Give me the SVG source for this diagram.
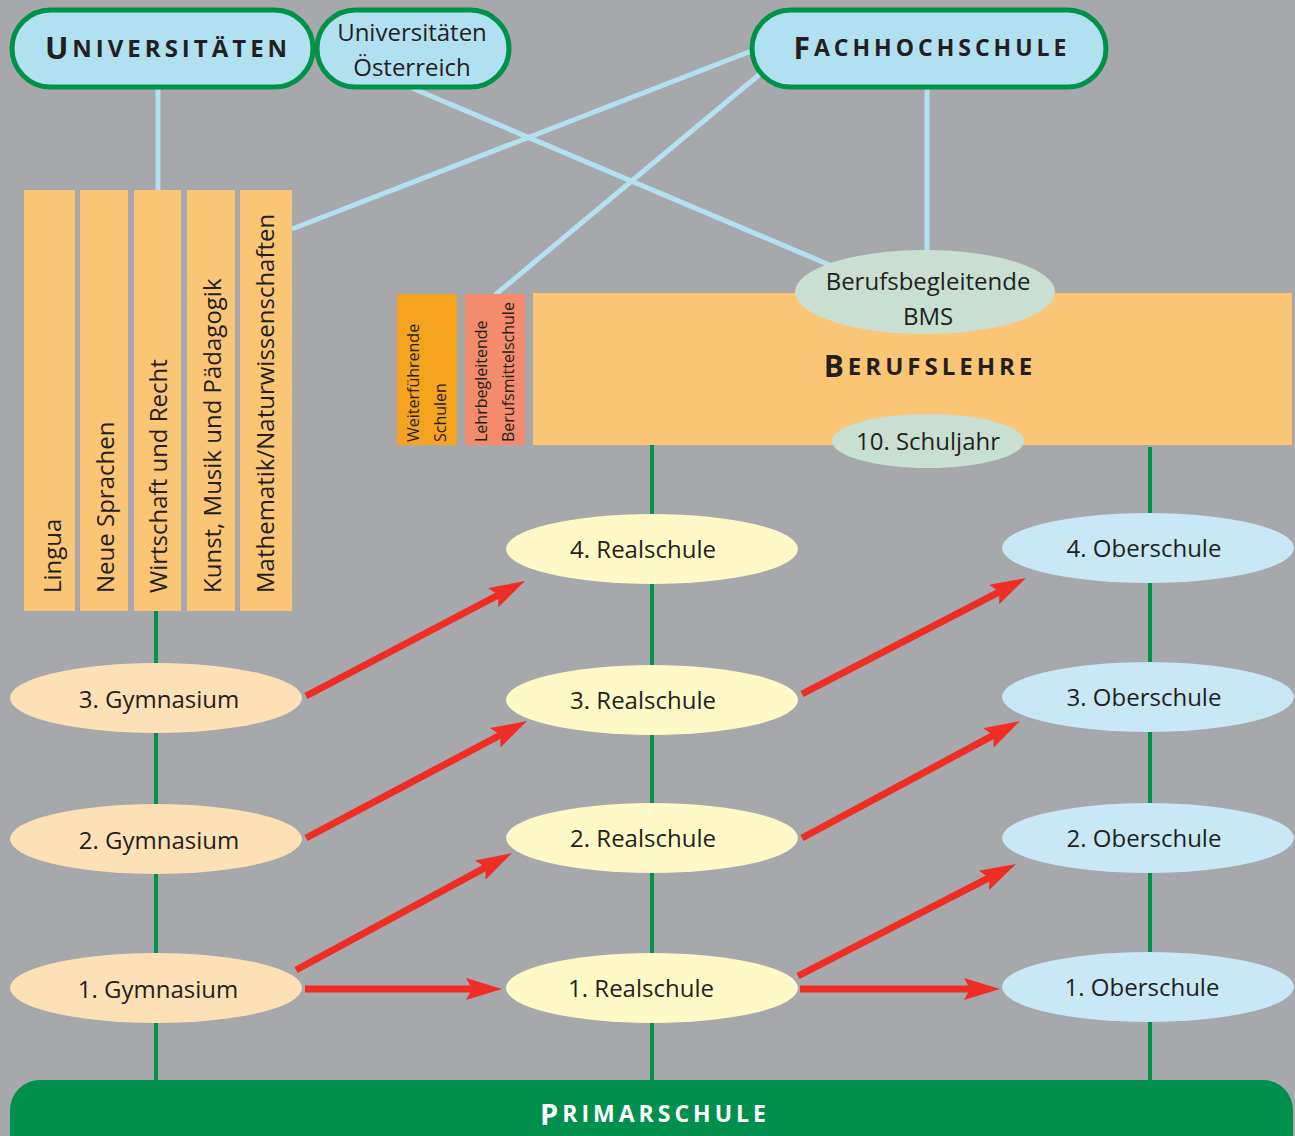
<svg xmlns="http://www.w3.org/2000/svg" width="1295" height="1136" viewBox="0 0 1295 1136">
<style>
.pill{fill:#b1e0f0;stroke:#009249;stroke-width:5}
.t{font-family:"Open Sans","Noto Sans","Liberation Sans",sans-serif;fill:#231f20}
.lbl{font-size:24px;text-anchor:middle;dominant-baseline:central}
.cap{font-weight:bold;letter-spacing:4px;text-anchor:middle;dominant-baseline:central}
.col{fill:#fbc576}
.blue{stroke:#b3e1f1;stroke-width:5;fill:none}
.grn{stroke:#009249;stroke-width:4;fill:none}
.red{stroke:#ee2e24;stroke-width:7;fill:none;marker-end:url(#ah)}
.gym{fill:#fde0b5}
.real{fill:#fef9c6}
.ober{fill:#c7e8f4}
.mint{fill:#c9dfd2}
.vt{font-size:24px}
.sm{font-size:16px}
.wht{fill:#ffffff}
</style>
<defs>
<marker id="ah" markerUnits="userSpaceOnUse" viewBox="0 0 36 22" markerWidth="36" markerHeight="22" refX="6" refY="11" orient="auto">
<path d="M0,0 L36,11 L0,22 L6,11 z" fill="#ee2e24"/>
</marker>
</defs>
<rect width="1295" height="1136" fill="#a7a8ac"/>
<g id="connectors">
<line class="blue" x1="158" y1="87" x2="158" y2="192"/>
<line class="blue" x1="927" y1="87" x2="927" y2="252"/>
<line class="blue" x1="754" y1="50" x2="292" y2="229"/>
<line class="blue" x1="760" y1="74" x2="495" y2="295"/>
<line class="blue" x1="412" y1="88" x2="832" y2="266"/>
<line class="grn" x1="156" y1="611" x2="156" y2="1082"/>
<line class="grn" x1="652" y1="444" x2="652" y2="1082"/>
<line class="grn" x1="1150" y1="447" x2="1150" y2="1082"/>
<line class="red" x1="306" y1="696" x2="498.4" y2="595"/>
<line class="red" x1="306" y1="838" x2="500.5" y2="735"/>
<line class="red" x1="296" y1="970" x2="485.6" y2="867.3"/>
<line class="red" x1="305" y1="989" x2="472" y2="989"/>
<line class="red" x1="802" y1="694" x2="999.4" y2="591.8"/>
<line class="red" x1="802" y1="838" x2="993.6" y2="735.2"/>
<line class="red" x1="798" y1="976" x2="989.3" y2="877.7"/>
<line class="red" x1="800" y1="989" x2="970" y2="989"/>
</g>
<g id="universitaeten">
<rect class="pill" x="12" y="10" width="301" height="77" rx="38.5"/>
<text class="t cap" x="168" y="47" font-size="24"><tspan font-size="31">U</tspan>NIVERSITÄTEN</text>
</g>
<g id="uni-oesterreich">
<rect class="pill" x="317" y="10" width="192" height="77" rx="38.5"/>
<text class="t lbl" x="412" y="31">Universitäten</text>
<text class="t lbl" x="412" y="66">Österreich</text>
</g>
<g id="fachhochschule">
<rect class="pill" x="752" y="10" width="354" height="77" rx="38.5"/>
<text class="t cap" x="932" y="47" font-size="23"><tspan font-size="30">F</tspan>ACHHOCHSCHULE</text>
</g>
<g id="lingua"><rect class="col" x="24" y="190" width="51" height="421"/><text class="t vt" transform="translate(61,593) rotate(-90)">Lingua</text></g>
<g id="neue-sprachen"><rect class="col" x="80" y="190" width="48" height="421"/><text class="t vt" transform="translate(114,593) rotate(-90)">Neue Sprachen</text></g>
<g id="wirtschaft"><rect class="col" x="134" y="190" width="47" height="421"/><text class="t vt" transform="translate(167,593) rotate(-90)">Wirtschaft und Recht</text></g>
<g id="kunst"><rect class="col" x="187" y="190" width="48" height="421"/><text class="t vt" transform="translate(221,593) rotate(-90)">Kunst, Musik und Pädagogik</text></g>
<g id="mathematik"><rect class="col" x="240" y="190" width="52" height="421"/><text class="t vt" transform="translate(274,593) rotate(-90)">Mathematik/Naturwissenschaften</text></g>
<g id="weiterfuehrende">
<rect x="397" y="294" width="60" height="151" fill="#f6a41f"/>
<text class="t sm" transform="translate(419,442) rotate(-90)">Weiterführende</text>
<text class="t sm" transform="translate(446,442) rotate(-90)">Schulen</text>
</g>
<g id="lehrbegleitende">
<rect x="465" y="294" width="60" height="151" fill="#f48b6c"/>
<text class="t sm" transform="translate(487,442) rotate(-90)">Lehrbegleitende</text>
<text class="t sm" transform="translate(514,442) rotate(-90)">Berufsmittelschule</text>
</g>
<g id="berufslehre">
<rect class="col" x="533" y="293" width="759" height="152"/>
<text class="t cap" x="930" y="365" font-size="24"><tspan font-size="30">B</tspan>ERUFSLEHRE</text>
</g>
<g id="berufsbegleitende-bms">
<ellipse class="mint" cx="925" cy="292" rx="130" ry="42"/>
<text class="t lbl" x="928" y="280">Berufsbegleitende</text>
<text class="t lbl" x="928" y="315">BMS</text>
</g>
<g id="schuljahr10">
<ellipse class="mint" cx="928" cy="441" rx="96" ry="27"/>
<text class="t lbl" x="928" y="440">10. Schuljahr</text>
</g>
<g id="gym3"><ellipse class="gym" cx="156" cy="698" rx="146" ry="35"/><text class="t lbl" x="159" y="698">3. Gymnasium</text></g>
<g id="gym2"><ellipse class="gym" cx="156" cy="839" rx="146" ry="35"/><text class="t lbl" x="159" y="839">2. Gymnasium</text></g>
<g id="gym1"><ellipse class="gym" cx="156" cy="988" rx="146" ry="35"/><text class="t lbl" x="158" y="988">1. Gymnasium</text></g>
<g id="real4"><ellipse class="real" cx="652" cy="549" rx="146" ry="35"/><text class="t lbl" x="643" y="548">4. Realschule</text></g>
<g id="real3"><ellipse class="real" cx="652" cy="700" rx="146" ry="35"/><text class="t lbl" x="643" y="699">3. Realschule</text></g>
<g id="real2"><ellipse class="real" cx="652" cy="838" rx="146" ry="35"/><text class="t lbl" x="643" y="837">2. Realschule</text></g>
<g id="real1"><ellipse class="real" cx="652" cy="988" rx="146" ry="35"/><text class="t lbl" x="641" y="987">1. Realschule</text></g>
<g id="ober4"><ellipse class="ober" cx="1148" cy="548" rx="146" ry="35"/><text class="t lbl" x="1144" y="547">4. Oberschule</text></g>
<g id="ober3"><ellipse class="ober" cx="1148" cy="697" rx="146" ry="35"/><text class="t lbl" x="1144" y="696">3. Oberschule</text></g>
<g id="ober2"><ellipse class="ober" cx="1148" cy="838" rx="146" ry="35"/><text class="t lbl" x="1144" y="837">2. Oberschule</text></g>
<g id="ober1"><ellipse class="ober" cx="1148" cy="987" rx="146" ry="35"/><text class="t lbl" x="1142" y="986">1. Oberschule</text></g>
<g id="primarschule">
<rect x="10" y="1080" width="1283" height="90" rx="30" fill="#008f4c"/>
<text class="t cap wht" x="655" y="1113" font-size="23"><tspan font-size="29">P</tspan>RIMARSCHULE</text>
</g>
</svg>
